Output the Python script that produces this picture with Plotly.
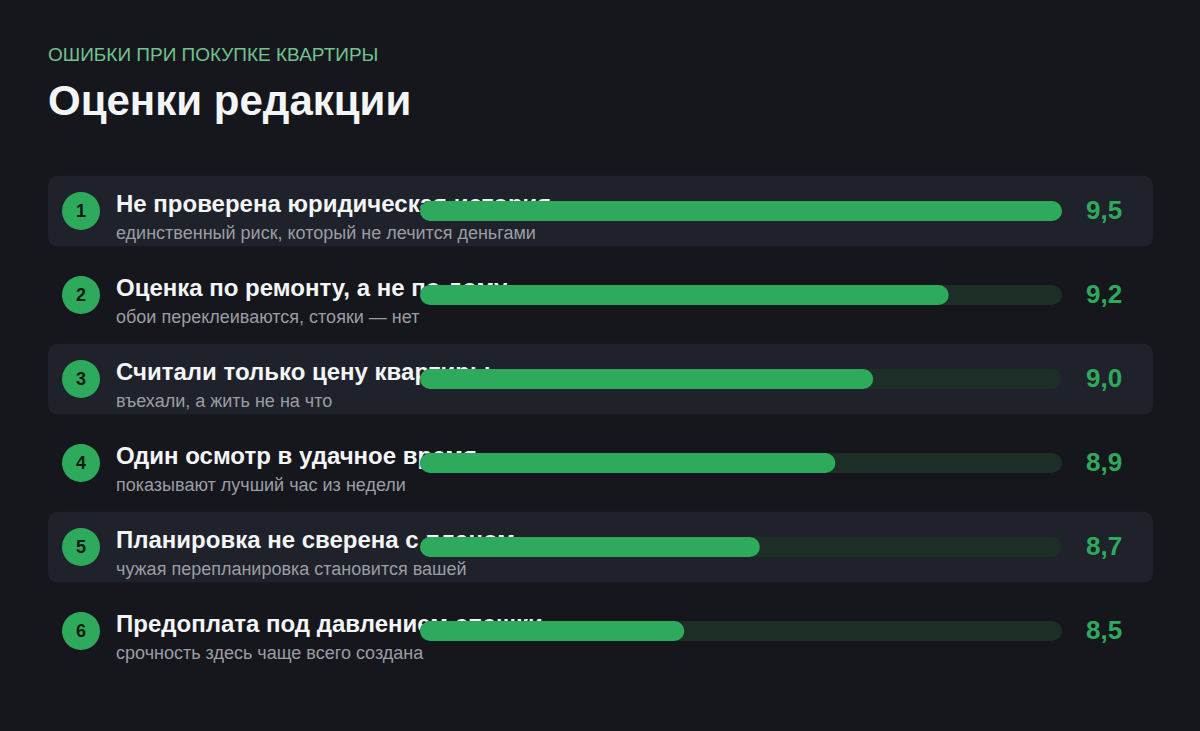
import plotly.graph_objects as go

# ---- data ----
titles = [
    "Не проверена юридическая история",
    "Оценка по ремонту, а не по дому",
    "Считали только цену квартиры",
    "Один осмотр в удачное время",
    "Планировка не сверена с планом",
    "Предоплата под давлением спешки",
]
subtitles = [
    "единственный риск, который не лечится деньгами",
    "обои переклеиваются, стояки — нет",
    "въехали, а жить не на что",
    "показывают лучший час из недели",
    "чужая перепланировка становится вашей",
    "срочность здесь чаще всего создана",
]
scores = [9.5, 9.2, 9.0, 8.9, 8.7, 8.5]
score_labels = ["9,5", "9,2", "9,0", "8,9", "8,7", "8,5"]
scale_min, scale_max = 7.8, 9.5

# ---- style ----
W, H = 1200, 731
BG = "#16171c"
CARD = "#1f222a"
TRACK = "#1d2e26"
GREEN = "#2eaa5c"
HEAD_GREEN = "#72c290"
SUB_GREY = "#9b9da4"
WHITE = "#f4f5f7"
FONT = "Liberation Sans, Arial, sans-serif"
ROW_PX = 84
FIRST_ROW_PX = 211
n = len(scores)

def px_x(p):
    return p / W

def px_y(p):
    return 1 - p / H

top_px = FIRST_ROW_PX - ROW_PX / 2
bot_px = top_px + ROW_PX * n
ydom = [px_y(bot_px), px_y(top_px)]

rows = list(range(n))
fig = go.Figure()

# titles (drawn in the first subplot, so the bars sit on top of them)
fig.add_trace(go.Scatter(
    x=[116] * n, y=[r - 5 / ROW_PX for r in rows], mode="text",
    text=[f"<b>{t}</b>" for t in titles], textposition="middle right",
    textfont=dict(family=FONT, size=24, color=WHITE),
    hoverinfo="skip", showlegend=False, xaxis="x", yaxis="y"))

bar_w = 20 / ROW_PX

def add_bar(start, end, color):
    fig.add_trace(go.Bar(
        y=rows, x=[e - s for s, e in zip(start, end)], base=start,
        orientation="h", width=bar_w,
        marker=dict(color=color, cornerradius=10, line=dict(width=0)),
        hoverinfo="skip", showlegend=False, xaxis="x2", yaxis="y2"))

add_bar([scale_min] * n, [scale_max] * n, TRACK)
add_bar([scale_min] * n, scores, GREEN)

shapes = []
annotations = []

rx, ry = 10 / W, 10 / ROW_PX
x0, x1 = px_x(48), px_x(1153)
for i in rows:
    if i % 2 == 0:
        y0, y1 = i - 0.42, i + 0.42
        path = (f"M {x0+rx},{y0} L {x1-rx},{y0} Q {x1},{y0} {x1},{y0+ry} "
                f"L {x1},{y1-ry} Q {x1},{y1} {x1-rx},{y1} L {x0+rx},{y1} "
                f"Q {x0},{y1} {x0},{y1-ry} L {x0},{y0+ry} Q {x0},{y0} {x0+rx},{y0} Z")
        shapes.append(dict(type="path", path=path, xref="paper", yref="y",
                           fillcolor=CARD, line=dict(width=0), layer="below"))
    r = 19 / ROW_PX
    shapes.append(dict(type="circle", xref="paper", yref="y",
                       x0=px_x(62), x1=px_x(100), y0=i - r, y1=i + r,
                       fillcolor=GREEN, line=dict(width=0), layer="below"))
    annotations.append(dict(x=px_x(81), y=i, xref="paper", yref="y", text=f"<b>{i+1}</b>",
                            showarrow=False, xanchor="center", yanchor="middle",
                            font=dict(family=FONT, size=18, color="#0e1a12")))
    annotations.append(dict(x=px_x(114), y=i, xref="paper", yref="y", text=subtitles[i],
                            showarrow=False, xanchor="left", yanchor="middle", yshift=-22,
                            font=dict(family=FONT, size=18, color=SUB_GREY)))
    annotations.append(dict(x=px_x(1084), y=i, xref="paper", yref="y", text=f"<b>{score_labels[i]}</b>",
                            showarrow=False, xanchor="left", yanchor="middle", yshift=1,
                            font=dict(family=FONT, size=26, color=GREEN)))

annotations.append(dict(x=px_x(46), y=px_y(55), xref="paper", yref="paper",
                        text="ОШИБКИ ПРИ ПОКУПКЕ КВАРТИРЫ", showarrow=False,
                        xanchor="left", yanchor="middle",
                        font=dict(family=FONT, size=19, color=HEAD_GREEN)))
annotations.append(dict(x=px_x(46), y=px_y(101), xref="paper", yref="paper",
                        text="<b>Оценки редакции</b>", showarrow=False,
                        xanchor="left", yanchor="middle",
                        font=dict(family=FONT, size=42, color=WHITE)))

fig.update_layout(
    width=W, height=H,
    margin=dict(l=0, r=0, t=0, b=0),
    paper_bgcolor=BG, plot_bgcolor="rgba(0,0,0,0)",
    barmode="overlay",
    showlegend=False,
    xaxis=dict(domain=[0, 1], range=[0, W], visible=False, fixedrange=True),
    yaxis=dict(domain=ydom, range=[n - 0.5, -0.5], visible=False, fixedrange=True),
    xaxis2=dict(domain=[px_x(420), px_x(1062)], range=[scale_min, scale_max],
                visible=False, fixedrange=True, anchor="y2"),
    yaxis2=dict(domain=ydom, range=[n - 0.5, -0.5], visible=False, fixedrange=True,
                anchor="x2"),
    shapes=shapes,
    annotations=annotations,
)

fig.write_html("out.html", config={"displayModeBar": False},
               post_script="document.body.style.margin='0';document.body.style.background='" + BG + "';")
